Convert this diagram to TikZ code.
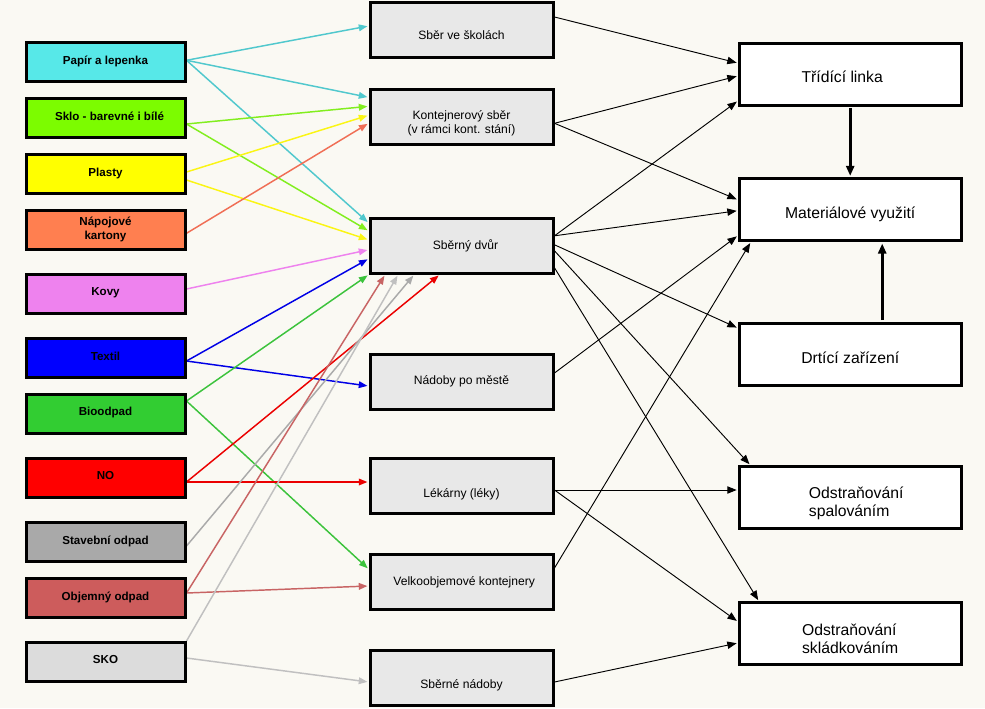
\documentclass[tikz,border=0pt]{standalone}
\usepackage{fontspec}
\setmainfont{Liberation Sans}
\usetikzlibrary{arrows.meta,calc}
\pgfdeclarelayer{back}
\pgfdeclarelayer{edges}
\pgfsetlayers{back,edges,main}
\newcommand{\dnstrut}[1]{\rule{0pt}{#1}}
\definecolor{bgc}{RGB}{250,249,243}
\definecolor{midfill}{RGB}{232,232,232}
\definecolor{cpap}{RGB}{87,232,232}
\definecolor{lpap}{RGB}{80,200,205}
\definecolor{cskl}{RGB}{124,252,0}
\definecolor{lskl}{RGB}{130,238,30}
\definecolor{cpla}{RGB}{255,255,0}
\definecolor{lpla}{RGB}{250,245,20}
\definecolor{cnap}{RGB}{255,127,80}
\definecolor{lnap}{RGB}{240,110,85}
\definecolor{ckov}{RGB}{238,130,238}
\definecolor{ctex}{RGB}{0,0,255}
\definecolor{ltex}{RGB}{0,0,230}
\definecolor{cbio}{RGB}{50,205,50}
\definecolor{lbio}{RGB}{60,195,60}
\definecolor{cno}{RGB}{255,0,0}
\definecolor{lno}{RGB}{235,0,0}
\definecolor{csta}{RGB}{169,169,169}
\definecolor{lsta}{RGB}{170,170,170}
\definecolor{cobj}{RGB}{205,92,92}
\definecolor{lobj}{RGB}{200,100,100}
\definecolor{csko}{RGB}{220,220,220}
\definecolor{lsko}{RGB}{192,192,192}
\begin{document}
\begin{tikzpicture}[x=0.75pt,y=-0.75pt,
  srcbox/.style={draw=black, line width=2.25pt, minimum width=119.25pt, minimum height=29.25pt,
    inner sep=0pt, align=center, text depth=3.2pt, font=\fontsize{8.7}{10}\selectfont\bfseries},
  midbox/.style={draw=black, line width=2.25pt, fill=midfill, minimum width=137.25pt, minimum height=41.25pt,
    inner sep=0pt, align=center, font=\fontsize{9.1}{10.2}\selectfont},
  dstbox/.style={draw=black, line width=2.25pt, fill=white, minimum width=166.5pt, minimum height=46.5pt,
    inner sep=0pt, align=center, font=\fontsize{11.8}{13.3}\selectfont},
  conn/.style={-{Triangle[length=6.5pt,width=5pt]}, line width=1.1pt, shorten >=0.8pt},
  blk/.style={-{Triangle[length=7pt,width=5.5pt]}, line width=0.7pt, draw=black, shorten >=0.8pt},
  thick arrow/.style={-{Triangle[length=7.5pt,width=6pt]}, line width=2.2pt, draw=black, shorten >=1pt, shorten <=1pt}
]
\begin{pgfonlayer}{back}
\fill[bgc] (0,0) rectangle (985,708);
\end{pgfonlayer}
\useasboundingbox (0,0) rectangle (985,708);

% source boxes
\node[srcbox, fill=cpap] (pap) at (105.5,62.3) {Papír a lepenka};
\node[srcbox, fill=cskl] (skl) at (105.5,118) {\hspace*{6pt}Sklo - barevné i bílé};
\node[srcbox, fill=cpla] (pla) at (105.5,174) {Plasty};
\node[srcbox, fill=cnap] (nap) at (105.5,230.3) {Nápojové\\kartony};
\node[srcbox, fill=ckov] (kov) at (105.5,294) {Kovy};
\node[srcbox, fill=ctex] (tex) at (105.5,358) {Textil};
\node[srcbox, fill=cbio] (bio) at (105.5,413.5) {Bioodpad};
\node[srcbox, fill=cno] (no) at (105.5,478) {NO};
\node[srcbox, fill=csta] (sta) at (105.5,542) {Stavební odpad};
\node[srcbox, fill=cobj] (obj) at (105.5,598) {Objemný odpad};
\node[srcbox, fill=csko] (sko) at (105.5,662) {SKO};

% middle boxes
\node[midbox] (skol) at (461.5,30) {\dnstrut{14.5pt}Sběr ve školách};
\node[midbox] (kont) at (461.5,117.3) {\dnstrut{16pt}Kontejnerový sběr\\(v rámci kont. stání)};
\node[midbox] (dvur) at (461.5,245.8) {\hspace*{6pt}Sběrný dvůr};
\node[midbox] (nad) at (461.5,381.5) {Nádoby po městě};
\node[midbox] (lek) at (461.5,485.5) {\dnstrut{20.5pt}Lékárny (léky)};
\node[midbox] (velk) at (461.5,582) {\hspace*{4pt}Velkoobjemové kontejnery};
\node[midbox] (sbn) at (461.5,677.5) {\dnstrut{19pt}Sběrné nádoby};

% destination boxes
\node[dstbox] (tri) at (850.2,74) {\dnstrut{13pt}Třídící linka\hspace*{12pt}};
\node[dstbox] (mat) at (850.2,209.7) {\dnstrut{15.5pt}Materiálové využití};
\node[dstbox] (drt) at (850.2,354) {\dnstrut{15pt}Drtící zařízení};
\node[dstbox, align=left] (spa) at (850.2,497.5) {\dnstrut{17.5pt}\hspace*{9pt}Odstraňování\\\hspace*{9pt}spalováním};
\node[dstbox, align=left] (skd) at (850.2,633.5) {\dnstrut{16.5pt}Odstraňování\\skládkováním};

\begin{pgfonlayer}{edges}
% sources -> middle
\draw[conn, lpap] ($(pap.east)+(0,-2)$) -- ($(skol.west)+(0,-4)$);
\draw[conn, lpap] ($(pap.east)+(0,-2)$) -- ($(kont.west)+(0,-20)$);
\draw[conn, lpap] ($(pap.east)+(0,-2)$) -- ($(dvur.west)+(0,-23)$);
\draw[conn, lskl] ($(skl.east)+(0,6)$) -- ($(kont.west)+(0,-11)$);
\draw[conn, lskl] ($(skl.east)+(0,6)$) -- ($(dvur.west)+(0,-15)$);
\draw[conn, lpla] ($(pla.east)+(0,-2)$) -- ($(kont.west)+(0,-2)$);
\draw[conn, lpla] ($(pla.east)+(0,6)$) -- ($(dvur.west)+(0,-6)$);
\draw[conn, lnap] ($(nap.east)+(0,3)$) -- ($(kont.west)+(0,6)$);
\draw[conn, ckov] ($(kov.east)+(0,-5)$) -- ($(dvur.west)+(0,4)$);
\draw[conn, ltex] ($(tex.east)+(0,3)$) -- ($(dvur.west)+(0,13)$);
\draw[conn, ltex] ($(tex.east)+(0,3)$) -- ($(nad.west)+(0,4.5)$);
\draw[conn, lbio] ($(bio.east)+(0,-12.5)$) -- ($(dvur.south west)+(0,0)$);
\draw[conn, lbio] ($(bio.east)+(0,-12.5)$) -- ($(velk.west)+(0,-13)$);
\draw[conn, lno] ($(no.east)+(0,4)$) -- ($(dvur.south)+(-22,0)$);
\draw[conn, lno] ($(no.east)+(0,4)$) -- ($(lek.west)+(0,-3.5)$);
\draw[conn, lsta] ($(sta.east)+(0,4)$) -- ($(dvur.south)+(-47.5,0)$);
\draw[conn, lobj] ($(obj.east)+(0,-5)$) -- ($(dvur.south)+(-76.5,0)$);
\draw[conn, lobj] ($(obj.east)+(0,-5)$) -- ($(velk.west)+(0,4)$);
\draw[conn, lsko] (sko.north east) -- ($(dvur.south)+(-63.5,0)$);
\draw[conn, lsko] ($(sko.east)+(0,-4)$) -- ($(sbn.west)+(0,4.5)$);
% middle -> destinations
\draw[blk] ($(skol.east)+(0,-13)$) -- ($(tri.west)+(0,-11)$);
\draw[blk] ($(kont.east)+(0,6)$) -- ($(tri.west)+(0,2)$);
\draw[blk] ($(kont.east)+(0,6)$) -- ($(mat.west)+(0,-10)$);
\draw[blk] ($(dvur.east)+(0,-10)$) -- ($(tri.west)+(0,27)$);
\draw[blk] ($(dvur.east)+(0,-10)$) -- ($(mat.west)+(0,1)$);
\draw[blk] ($(dvur.east)+(0,-1)$) -- ($(drt.west)+(0,-26)$);
\draw[blk] ($(dvur.east)+(0,5)$) -- ($(spa.north west)+(12.5,0)$);
\draw[blk] ($(dvur.east)+(0,22)$) -- ($(skd.north west)+(21,0)$);
\draw[blk] ($(nad.east)+(0,-8.5)$) -- ($(mat.west)+(0,26)$);
\draw[blk] ($(lek.east)+(0,4.5)$) -- ($(spa.west)+(0,-7.5)$);
\draw[blk] ($(lek.east)+(0,4.5)$) -- ($(skd.west)+(0,-12)$);
\draw[blk] ($(velk.east)+(0,-14)$) -- ($(mat.south west)+(13,0)$);
\draw[blk] ($(sbn.east)+(0,4.5)$) -- ($(skd.west)+(0,9.5)$);
% vertical thick arrows
\draw[thick arrow] (tri.south) -- (mat.north);
\draw[thick arrow] ($(drt.north)+(32,0)$) -- ($(mat.south)+(32,0)$);
\end{pgfonlayer}
\end{tikzpicture}
\end{document}
